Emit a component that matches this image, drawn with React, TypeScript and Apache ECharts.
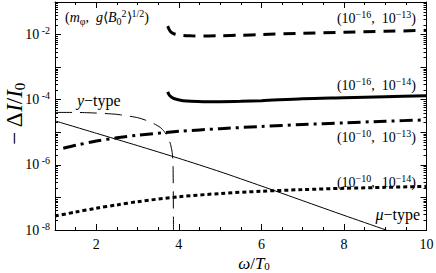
import { useEffect, useRef } from 'react';
import * as echarts from 'echarts';

const FONT = '"Liberation Serif", "Times New Roman", serif';

// omega/T0 positions and log10(-ΔI/I0) values
const xA = [3.73, 3.76, 3.8, 3.87, 3.95, 4.1, 4.3, 4.6, 5, 5.5, 6, 7, 8, 9, 10];
const logA = [-1.74, -1.83, -1.91, -1.97, -2.0, -2.03, -2.04, -2.045, -2.035, -2.02, -2.0, -1.96, -1.93, -1.9, -1.87];

const xB = [3.73, 3.76, 3.8, 3.87, 3.95, 4.1, 4.3, 4.6, 5, 5.5, 6, 7, 8, 9, 10];
const logB = [-3.76, -3.84, -3.9, -3.96, -3.99, -4.03, -4.05, -4.06, -4.06, -4.05, -4.03, -3.97, -3.94, -3.91, -3.88];

const xC = [1.2, 1.5, 2, 2.5, 3, 4, 5, 6, 7, 8, 9, 10];
const logC = [-5.49, -5.4, -5.27, -5.17, -5.09, -4.97, -4.89, -4.82, -4.76, -4.71, -4.66, -4.62];

const xD = [1, 1.5, 2, 2.5, 3, 4, 5, 6, 7, 8, 9, 10];
const logD = [-7.57, -7.45, -7.33, -7.23, -7.13, -6.98, -6.88, -6.81, -6.76, -6.72, -6.69, -6.66];

// mu-type (thin solid)
const xMu = [1, 2, 3, 4, 5, 6, 7, 8, 9, 9.03];
const logMu = [-4.65, -5.03, -5.41, -5.8, -6.21, -6.65, -7.1, -7.55, -7.99, -8.0];

// y-type (thin dashed)
const xY = [1, 1.5, 2, 2.5, 3, 3.2, 3.4, 3.55, 3.65, 3.74, 3.8, 3.84, 3.86, 3.87];
const logY = [-4.39, -4.39, -4.41, -4.45, -4.55, -4.63, -4.74, -4.85, -4.98, -5.17, -5.37, -5.63, -6.0, -8.0];

const xLabelValues = [2, 4, 6, 8, 10];
const yLabelExps = [-8, -6, -4, -2];
const xMajorTicks = [2, 4, 6, 8];
const decades = [-8, -7, -6, -5, -4, -3, -2];
const minorMults = [2, 3, 4, 5, 6, 7, 8, 9];

const toPts = (xs: number[], es: number[]) => xs.map((x, i) => [x, Math.pow(10, es[i])]);

export default function App() {
  const ref = useRef<HTMLDivElement>(null);
  useEffect(() => {
    if (!ref.current) return;
    const chart = echarts.init(ref.current, undefined, { renderer: 'svg' });

    const tickData: number[][] = [];
    xMajorTicks.forEach((x) => tickData.push([x, 1e-8, 0]));
    decades.forEach((d) => minorMults.forEach((m) => tickData.push([1, m * Math.pow(10, d), 1])));

    const axisLine = { show: true, lineStyle: { color: '#000', width: 1 } };
    const xCommon = {
      type: 'value', min: 1, max: 10, interval: 0.5,
      axisLine, splitLine: { show: false },
      axisTick: { show: true, inside: true, length: 3, lineStyle: { color: '#000' } },
    };
    const yCommon = {
      type: 'log', logBase: 10, min: 1e-8, max: 1e-1, splitNumber: 7,
      axisLine, splitLine: { show: false },
      axisTick: { show: true, inside: true, length: 6, lineStyle: { color: '#000' } },
    };

    const annRight = (text: string, y: number) => ({
      type: 'text', x: 416, y,
      style: {
        text, align: 'right', verticalAlign: 'middle',
        rich: {
          n: { fontFamily: FONT, fontSize: 14, lineHeight: 18, fill: '#000' },
          s: { fontFamily: FONT, fontSize: 10, lineHeight: 10, verticalAlign: 'top', fill: '#000' },
        },
      },
    });

    chart.setOption({
      animation: false,
      backgroundColor: '#fff',
      grid: { left: 55, right: 9.5, top: 2, bottom: 43, containLabel: false, outerBoundsMode: 'none' },
      xAxis: [
        {
          ...xCommon, position: 'bottom',
          axisLabel: {
            show: true, margin: 7, color: '#000', fontFamily: FONT, fontSize: 14,
            formatter: (v: number) => (xLabelValues.indexOf(v) >= 0 ? String(v) : ''),
          },
        },
        { ...xCommon, position: 'top', axisLabel: { show: false } },
      ],
      yAxis: [
        {
          ...yCommon, position: 'left',
          axisLabel: {
            show: true, margin: 5, color: '#000',
            formatter: (v: number) => {
              const e = Math.round(Math.log10(v));
              return yLabelExps.indexOf(e) >= 0 ? `{b|10}{s| ${e}}` : '';
            },
            rich: {
              b: { fontFamily: FONT, fontSize: 14, lineHeight: 18, color: '#000' },
              s: { fontFamily: FONT, fontSize: 10, lineHeight: 10, verticalAlign: 'top', color: '#000' },
            },
          },
        },
        { ...yCommon, position: 'right', axisLabel: { show: false } },
      ],
      series: [
        {
          type: 'line', data: toPts(xA, logA), showSymbol: false, smooth: 0.3,
          lineStyle: { color: '#000', width: 3, type: [12, 8] },
        },
        {
          type: 'line', data: toPts(xB, logB), showSymbol: false, smooth: 0.3,
          lineStyle: { color: '#000', width: 3, type: 'solid' },
        },
        {
          type: 'line', data: toPts(xC, logC), showSymbol: false, smooth: 0.3,
          lineStyle: { color: '#000', width: 3, type: [13, 5, 3, 5] },
        },
        {
          type: 'line', data: toPts(xD, logD), showSymbol: false, smooth: 0.3,
          lineStyle: { color: '#000', width: 3, type: [4, 3] },
        },
        {
          type: 'line', data: toPts(xMu, logMu), showSymbol: false, smooth: 0.2,
          lineStyle: { color: '#000', width: 1, type: 'solid' },
        },
        {
          type: 'line', data: toPts(xY, logY), showSymbol: false, smooth: 0.2,
          lineStyle: { color: '#000', width: 1, type: [17, 8] },
        },
        {
          type: 'custom', silent: true, clip: false,
          encode: { x: 0, y: 1 },
          data: tickData,
          renderItem: (params: any, api: any) => {
            const cs = params.coordSys;
            const kind = api.value(2);
            const p = api.coord([api.value(0), api.value(1)]);
            const st = { stroke: '#000', lineWidth: 1 };
            if (kind === 0) {
              const x = Math.round(p[0]) + 0.5;
              const b = cs.y + cs.height;
              const t = cs.y;
              return {
                type: 'group',
                children: [
                  { type: 'line', shape: { x1: x, y1: b, x2: x, y2: b - 6 }, style: st },
                  { type: 'line', shape: { x1: x, y1: t, x2: x, y2: t + 6 }, style: st },
                ],
              };
            }
            const y = Math.round(p[1]) + 0.5;
            const l = cs.x;
            const r = cs.x + cs.width;
            return {
              type: 'group',
              children: [
                { type: 'line', shape: { x1: l, y1: y, x2: l + 3, y2: y }, style: st },
                { type: 'line', shape: { x1: r, y1: y, x2: r - 3, y2: y }, style: st },
              ],
            };
          },
        },
      ],
      graphic: [
        {
          type: 'text', x: 65, y: 17,
          style: {
            text: '{n|(}{i|m}{sb|φ}{n|,  }{i|g}{n|⟨}{i|B}{sb|0}{sp|2}{n|⟩}{sp|1/2}{n|)}',
            align: 'left', verticalAlign: 'middle',
            rich: {
              n: { fontFamily: FONT, fontSize: 14, lineHeight: 18, fill: '#000' },
              i: { fontFamily: FONT, fontSize: 14, lineHeight: 18, fontStyle: 'italic', fill: '#000' },
              sb: { fontFamily: FONT, fontSize: 10, lineHeight: 9, verticalAlign: 'bottom', fill: '#000' },
              sp: { fontFamily: FONT, fontSize: 10, lineHeight: 9, verticalAlign: 'top', fill: '#000' },
            },
          },
        },
        annRight('{n|(10}{s|−16}{n|,  10}{s|−13}{n|)}', 18),
        annRight('{n|(10}{s|−16}{n|,  10}{s|−14}{n|)}', 85),
        annRight('{n|(10}{s|−10}{n|,  10}{s|−13}{n|)}', 137),
        annRight('{n|(10}{s|−10}{n|,  10}{s|−14}{n|)}', 182),
        {
          type: 'text', x: 77, y: 100,
          style: {
            text: '{i|y}{n|−type}', align: 'left', verticalAlign: 'middle',
            rich: {
              n: { fontFamily: FONT, fontSize: 16, lineHeight: 20, fill: '#000' },
              i: { fontFamily: FONT, fontSize: 16, lineHeight: 20, fontStyle: 'italic', fill: '#000' },
            },
          },
        },
        {
          type: 'text', x: 420, y: 214,
          style: {
            text: '{i|μ}{n|−type}', align: 'right', verticalAlign: 'middle',
            rich: {
              n: { fontFamily: FONT, fontSize: 16, lineHeight: 20, fill: '#000' },
              i: { fontFamily: FONT, fontSize: 16, lineHeight: 20, fontStyle: 'italic', fill: '#000' },
            },
          },
        },
        {
          type: 'text', x: 254, y: 263,
          style: {
            text: '{i|ω}{n|/}{i|T}{sb|0}', align: 'center', verticalAlign: 'middle',
            rich: {
              n: { fontFamily: FONT, fontSize: 17, lineHeight: 17, fill: '#000' },
              i: { fontFamily: FONT, fontSize: 17, lineHeight: 17, fontStyle: 'italic', fill: '#000' },
              sb: { fontFamily: FONT, fontSize: 11, lineHeight: 10, verticalAlign: 'bottom', fill: '#000' },
            },
          },
        },
        {
          type: 'text', x: 14, y: 114, rotation: Math.PI / 2,
          style: {
            text: '{n|− Δ}{i|I}{n|/}{i|I}{sb|0}', align: 'center', verticalAlign: 'middle',
            rich: {
              n: { fontFamily: FONT, fontSize: 23, lineHeight: 26, fill: '#000' },
              i: { fontFamily: FONT, fontSize: 23, lineHeight: 26, fontStyle: 'italic', fill: '#000' },
              sb: { fontFamily: FONT, fontSize: 15, lineHeight: 15, verticalAlign: 'bottom', fill: '#000' },
            },
          },
        },
      ],
    });
    return () => chart.dispose();
  }, []);
  return <div ref={ref} style={{ width: 436, height: 273, position: 'absolute', left: 0, top: 0 }} />;
}
